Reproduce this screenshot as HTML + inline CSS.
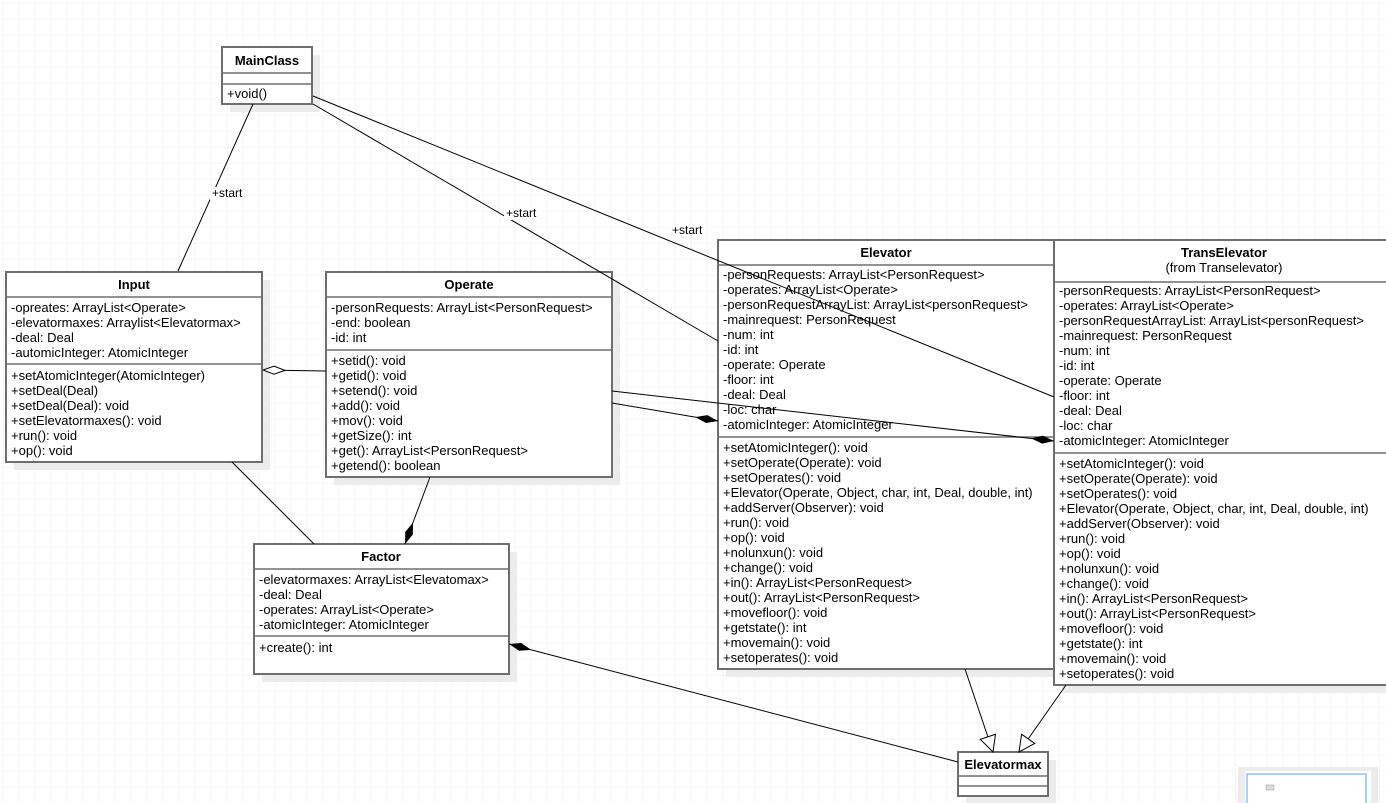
<!DOCTYPE html>
<html><head><meta charset="utf-8"><style>
html,body{margin:0;padding:0;background:#fff;}
svg{display:block;font-family:"Liberation Sans",Arial,sans-serif;font-size:13px;}
.b{fill:#fff;stroke:#6e6e6e;stroke-width:2;}
.s{fill:#ececec;}
.d{stroke:#6e6e6e;stroke-width:1.5;}
.t{font-weight:bold;text-anchor:middle;}
.l{stroke:#000;stroke-width:1;fill:none;}
.sm{font-size:12px;}
</style></head><body>
<svg width="1386" height="803" xmlns="http://www.w3.org/2000/svg">
<defs>
<pattern id="g" width="16" height="16" patternUnits="userSpaceOnUse" x="3" y="3"><path d="M16 0H0V16" fill="none" stroke="#ededed" stroke-width="1"/></pattern>
<marker id="fd" markerWidth="24" markerHeight="10" refX="23" refY="5" orient="auto-start-reverse" markerUnits="userSpaceOnUse"><path d="M0,5 L11.5,1 L23,5 L11.5,9 z" fill="#000"/></marker>
<marker id="hd" markerWidth="24" markerHeight="12" refX="23" refY="6" orient="auto-start-reverse" markerUnits="userSpaceOnUse"><path d="M1,6 L12,2 L23,6 L12,10 z" fill="#fff" stroke="#000"/></marker>
<marker id="tr" markerWidth="18" markerHeight="18" refX="17" refY="9" orient="auto" markerUnits="userSpaceOnUse"><path d="M1,1 L17,9 L1,17 z" fill="#fff" stroke="#000"/></marker>
</defs>
<rect width="1386" height="803" fill="url(#g)"/>

<rect class="s" x="230" y="55" width="90" height="57"/>
<rect class="s" x="14" y="280" width="256" height="190"/>
<rect class="s" x="334" y="280" width="286" height="205"/>
<rect class="s" x="262" y="552" width="255" height="130"/>
<rect class="s" x="726" y="248" width="336" height="429"/>
<rect class="s" x="1062" y="248" width="330" height="445"/>
<rect class="s" x="966" y="760" width="90" height="44"/>

<rect class="b" x="222" y="47" width="90" height="57"/>
<line class="d" x1="222" y1="73" x2="312" y2="73"/><line class="d" x1="222" y1="84" x2="312" y2="84"/>
<text class="t" x="267" y="65">MainClass</text>
<text x="227" y="98">+void()</text>

<rect class="b" x="6" y="272" width="256" height="190"/>
<line class="d" x1="6" y1="297" x2="262" y2="297"/><line class="d" x1="6" y1="364" x2="262" y2="364"/>
<text class="t" x="134" y="289">Input</text>
<text x="11" y="312">-opreates: ArrayList&lt;Operate&gt;</text>
<text x="11" y="327">-elevatormaxes: Arraylist&lt;Elevatormax&gt;</text>
<text x="11" y="342">-deal: Deal</text>
<text x="11" y="357">-automicInteger: AtomicInteger</text>
<text x="11" y="380">+setAtomicInteger(AtomicInteger)</text>
<text x="11" y="395">+setDeal(Deal)</text>
<text x="11" y="410">+setDeal(Deal): void</text>
<text x="11" y="425">+setElevatormaxes(): void</text>
<text x="11" y="440">+run(): void</text>
<text x="11" y="455">+op(): void</text>

<rect class="b" x="326" y="272" width="286" height="205"/>
<line class="d" x1="326" y1="297" x2="612" y2="297"/><line class="d" x1="326" y1="350" x2="612" y2="350"/>
<text class="t" x="469" y="289">Operate</text>
<text x="331" y="312">-personRequests: ArrayList&lt;PersonRequest&gt;</text>
<text x="331" y="327">-end: boolean</text>
<text x="331" y="342">-id: int</text>
<text x="331" y="365">+setid(): void</text>
<text x="331" y="380">+getid(): void</text>
<text x="331" y="395">+setend(): void</text>
<text x="331" y="410">+add(): void</text>
<text x="331" y="425">+mov(): void</text>
<text x="331" y="440">+getSize(): int</text>
<text x="331" y="455">+get(): ArrayList&lt;PersonRequest&gt;</text>
<text x="331" y="470">+getend(): boolean</text>

<rect class="b" x="254" y="544" width="255" height="130"/>
<line class="d" x1="254" y1="569" x2="509" y2="569"/><line class="d" x1="254" y1="636" x2="509" y2="636"/>
<text class="t" x="381" y="561">Factor</text>
<text x="259" y="584">-elevatormaxes: ArrayList&lt;Elevatomax&gt;</text>
<text x="259" y="599">-deal: Deal</text>
<text x="259" y="614">-operates: ArrayList&lt;Operate&gt;</text>
<text x="259" y="629">-atomicInteger: AtomicInteger</text>
<text x="259" y="652">+create(): int</text>

<rect class="b" x="718" y="240" width="336" height="429"/>
<line class="d" x1="718" y1="265" x2="1054" y2="265"/><line class="d" x1="718" y1="437" x2="1054" y2="437"/>
<text class="t" x="886" y="257">Elevator</text>
<g>
<text x="723" y="279">-personRequests: ArrayList&lt;PersonRequest&gt;</text>
<text x="723" y="294">-operates: ArrayList&lt;Operate&gt;</text>
<text x="723" y="309">-personRequestArrayList: ArrayList&lt;personRequest&gt;</text>
<text x="723" y="324">-mainrequest: PersonRequest</text>
<text x="723" y="339">-num: int</text>
<text x="723" y="354">-id: int</text>
<text x="723" y="369">-operate: Operate</text>
<text x="723" y="384">-floor: int</text>
<text x="723" y="399">-deal: Deal</text>
<text x="723" y="414">-loc: char</text>
<text x="723" y="429">-atomicInteger: AtomicInteger</text>
<text x="723" y="452">+setAtomicInteger(): void</text>
<text x="723" y="467">+setOperate(Operate): void</text>
<text x="723" y="482">+setOperates(): void</text>
<text x="723" y="497">+Elevator(Operate, Object, char, int, Deal, double, int)</text>
<text x="723" y="512">+addServer(Observer): void</text>
<text x="723" y="527">+run(): void</text>
<text x="723" y="542">+op(): void</text>
<text x="723" y="557">+nolunxun(): void</text>
<text x="723" y="572">+change(): void</text>
<text x="723" y="587">+in(): ArrayList&lt;PersonRequest&gt;</text>
<text x="723" y="602">+out(): ArrayList&lt;PersonRequest&gt;</text>
<text x="723" y="617">+movefloor(): void</text>
<text x="723" y="632">+getstate(): int</text>
<text x="723" y="647">+movemain(): void</text>
<text x="723" y="662">+setoperates(): void</text>
</g>

<rect class="b" x="1054" y="240" width="340" height="445"/>
<line class="d" x1="1054" y1="282" x2="1394" y2="282"/><line class="d" x1="1054" y1="453" x2="1394" y2="453"/>
<text class="t" x="1224" y="257">TransElevator</text>
<text x="1224" y="272" text-anchor="middle">(from Transelevator)</text>
<g>
<text x="1059" y="295">-personRequests: ArrayList&lt;PersonRequest&gt;</text>
<text x="1059" y="310">-operates: ArrayList&lt;Operate&gt;</text>
<text x="1059" y="325">-personRequestArrayList: ArrayList&lt;personRequest&gt;</text>
<text x="1059" y="340">-mainrequest: PersonRequest</text>
<text x="1059" y="355">-num: int</text>
<text x="1059" y="370">-id: int</text>
<text x="1059" y="385">-operate: Operate</text>
<text x="1059" y="400">-floor: int</text>
<text x="1059" y="415">-deal: Deal</text>
<text x="1059" y="430">-loc: char</text>
<text x="1059" y="445">-atomicInteger: AtomicInteger</text>
<text x="1059" y="468">+setAtomicInteger(): void</text>
<text x="1059" y="483">+setOperate(Operate): void</text>
<text x="1059" y="498">+setOperates(): void</text>
<text x="1059" y="513">+Elevator(Operate, Object, char, int, Deal, double, int)</text>
<text x="1059" y="528">+addServer(Observer): void</text>
<text x="1059" y="543">+run(): void</text>
<text x="1059" y="558">+op(): void</text>
<text x="1059" y="573">+nolunxun(): void</text>
<text x="1059" y="588">+change(): void</text>
<text x="1059" y="603">+in(): ArrayList&lt;PersonRequest&gt;</text>
<text x="1059" y="618">+out(): ArrayList&lt;PersonRequest&gt;</text>
<text x="1059" y="633">+movefloor(): void</text>
<text x="1059" y="648">+getstate(): int</text>
<text x="1059" y="663">+movemain(): void</text>
<text x="1059" y="678">+setoperates(): void</text>
</g>

<rect class="b" x="958" y="752" width="90" height="44"/>
<line class="d" x1="958" y1="776" x2="1048" y2="776"/><line class="d" x1="958" y1="786" x2="1048" y2="786"/>
<text class="t" x="1003" y="769">Elevatormax</text>

<rect x="1238" y="767" width="140" height="40" fill="#ececec"/>
<rect x="1245" y="771" width="126" height="36" fill="#fff"/>
<rect x="1247" y="774" width="119" height="34" fill="#fff" stroke="#5a9cf8" stroke-width="1"/>
<rect x="1266" y="785" width="8" height="5" fill="#ddd" stroke="#999" stroke-width="0.5"/>

<line class="l" x1="253" y1="104" x2="178" y2="271"/>
<line class="l" x1="313" y1="104" x2="718" y2="341"/>
<line class="l" x1="313" y1="96" x2="1054" y2="397"/>
<rect x="210" y="187" width="36" height="13" fill="#fff"/>
<text class="sm" x="212" y="197">+start</text>
<rect x="504" y="207" width="36" height="13" fill="#fff"/>
<text class="sm" x="506" y="217">+start</text>
<rect x="670" y="224" width="36" height="13" fill="#fff"/>
<text class="sm" x="672" y="234">+start</text>
<line class="l" x1="326" y1="371" x2="263" y2="370" marker-end="url(#hd)"/>
<line class="l" x1="612" y1="403" x2="718" y2="421" marker-end="url(#fd)"/>
<line class="l" x1="612" y1="391" x2="1054" y2="441" marker-end="url(#fd)"/>
<line class="l" x1="232" y1="462" x2="314" y2="544"/>
<line class="l" x1="430" y1="477" x2="405" y2="544" marker-end="url(#fd)"/>
<line class="l" x1="958" y1="762" x2="509" y2="644" marker-end="url(#fd)"/>
<line class="l" x1="965" y1="669" x2="993" y2="752" marker-end="url(#tr)"/>
<line class="l" x1="1066" y1="685" x2="1019" y2="752" marker-end="url(#tr)"/>
</svg>
</body></html>
